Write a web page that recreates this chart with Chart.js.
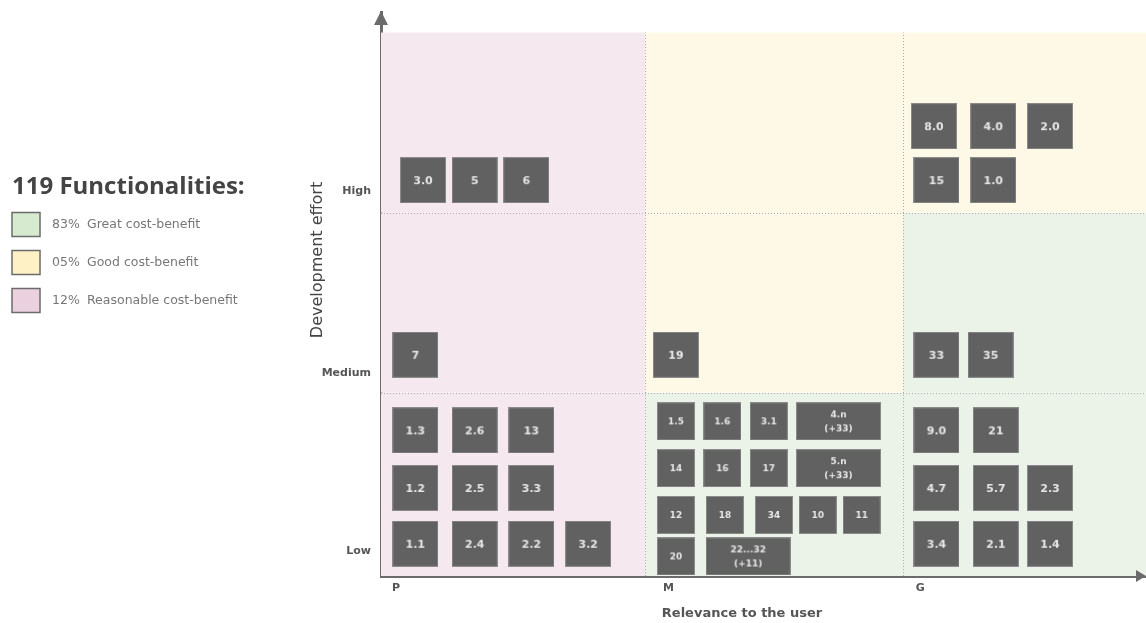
<!DOCTYPE html>
<html>
<head>
<meta charset="utf-8">
<title>Functionalities - cost-benefit matrix</title>
<script src="https://cdn.jsdelivr.net/npm/chart.js@4.4.1/dist/chart.umd.min.js"></script>
<style>
html, body { margin: 0; padding: 0; background: #fff; }
#wrap { width: 1146px; height: 623px; position: relative; }
</style>
</head>
<body>
<div id="wrap"><canvas id="myChart"></canvas></div>
<script>
var total_functionalities = 119;
var class_names = ['Great cost-benefit', 'Good cost-benefit', 'Reasonable cost-benefit'];
var class_shares = ['83%', '05%', '12%'];

var relevance_labels = ['P', 'M', 'G'];
var relevance_ticks = [0.02, 1.07, 2.05];
var effort_labels = ['Low', 'Medium', 'High'];
var effort_ticks = [0.12, 1.11, 2.12];

/* cost-benefit class of each cell, rows Low..High, columns P, M, G */
var cell_class = [
	[2, 0, 0],
	[2, 1, 0],
	[2, 1, 1]
];

var func_ids = [
	'3.0', '5', '6',
	'8.0', '4.0', '2.0', '15', '1.0',
	'7', '19', '33', '35',
	'1.3', '2.6', '13', '1.2', '2.5', '3.3', '1.1', '2.4', '2.2', '3.2',
	'1.5', '1.6', '3.1', '4.n\n(+33)', '14', '16', '17', '5.n\n(+33)',
	'12', '18', '34', '10', '11', '20', '22...32\n(+11)',
	'9.0', '21', '4.7', '5.7', '2.3', '3.4', '2.1', '1.4'
];
var func_relevance = [
	0.14, 0.34, 0.54,
	2.12, 2.35, 2.57, 2.13, 2.35,
	0.11, 1.12, 2.13, 2.34,
	0.11, 0.34, 0.56, 0.11, 0.34, 0.56, 0.11, 0.34, 0.56, 0.78,
	1.12, 1.30, 1.48, 1.75, 1.12, 1.30, 1.48, 1.75,
	1.12, 1.31, 1.50, 1.67, 1.84, 1.12, 1.40,
	2.13, 2.36, 2.13, 2.36, 2.57, 2.13, 2.36, 2.57
];
var func_effort = [
	2.18, 2.18, 2.18,
	2.48, 2.48, 2.48, 2.18, 2.18,
	1.21, 1.21, 1.21, 1.21,
	0.79, 0.79, 0.79, 0.47, 0.47, 0.47, 0.16, 0.16, 0.16, 0.16,
	0.84, 0.84, 0.84, 0.84, 0.58, 0.58, 0.58, 0.58,
	0.32, 0.32, 0.32, 0.32, 0.32, 0.09, 0.09,
	0.79, 0.79, 0.47, 0.47, 0.47, 0.16, 0.16, 0.16
];

var cell_fills = ['#ebf3e8', '#fef8e6', '#f5e9ef'];
var legend_fills = ['#d6eacf', '#fff1c6', '#ebd1df'];
var axis_color = '#6b6b6b';

/*
	Build the little grey tile used as point style for one functionality
*/
function makeBox(label, relevance, effort) {
	var lines = label.split('\n');
	var compact = relevance >= 1 && relevance < 2 && effort < 1;
	var w = 46, h = 46, fs = 11;
	if (compact) { w = 38; h = 38; fs = 9; }
	if (lines.length > 1) { w = 85; h = 38; fs = 9; }

	var c = document.createElement('canvas');
	c.width = w;
	c.height = h;
	var g = c.getContext('2d');
	g.fillStyle = '#8a8a8a';
	g.fillRect(0, 0, w, h);
	g.fillStyle = '#616161';
	g.fillRect(1, 1, w - 2, h - 2);
	g.fillStyle = '#e6e6e6';
	g.font = 'bold ' + fs + 'px "DejaVu Sans"';
	g.textAlign = 'center';
	g.textBaseline = 'middle';
	for (var k = 0; k < lines.length; k++) {
		g.fillText(lines[k], w / 2, h / 2 + 1 + (k - (lines.length - 1) / 2) * 14);
	}
	return c;
}

var points = [];
var box_images = [];
for (var i = 0; i < func_ids.length; i++) {
	points.push({x: func_relevance[i], y: func_effort[i]});
	box_images.push(makeBox(func_ids[i], func_relevance[i], func_effort[i]));
}

/* background cells, dotted borders, arrows, axis titles and the legend */
var matrixPlugin = {
	id: 'matrix',
	beforeDatasetsDraw: function(chart) {
		var ctx = chart.ctx, a = chart.chartArea;
		var xs = chart.scales.x, ys = chart.scales.y;
		ctx.save();
		for (var r = 0; r < 3; r++) {
			for (var c = 0; c < 3; c++) {
				var left = c === 0 ? a.left : xs.getPixelForValue(c);
				var right = c === 2 ? a.right : xs.getPixelForValue(c + 1);
				var top = ys.getPixelForValue(r + 1);
				var bottom = r === 0 ? a.bottom : ys.getPixelForValue(r);
				ctx.fillStyle = cell_fills[cell_class[r][c]];
				ctx.fillRect(left, top, right - left, bottom - top);
			}
		}
		ctx.strokeStyle = '#aaaaaa';
		ctx.lineWidth = 1;
		ctx.setLineDash([1, 2]);
		for (var v = 1; v < 3; v++) {
			var px = Math.round(xs.getPixelForValue(v)) + 0.5;
			ctx.beginPath();
			ctx.moveTo(px, a.bottom);
			ctx.lineTo(px, ys.getPixelForValue(3));
			ctx.stroke();
			var py = Math.round(ys.getPixelForValue(v)) + 0.5;
			ctx.beginPath();
			ctx.moveTo(a.left, py);
			ctx.lineTo(a.right, py);
			ctx.stroke();
		}
		ctx.restore();
	},
	afterDraw: function(chart) {
		var ctx = chart.ctx, a = chart.chartArea;
		ctx.save();

		/* arrow heads */
		ctx.fillStyle = axis_color;
		ctx.beginPath();
		ctx.moveTo(a.left, a.top - 1);
		ctx.lineTo(a.left - 7, a.top + 13);
		ctx.lineTo(a.left + 7, a.top + 13);
		ctx.closePath();
		ctx.fill();
		ctx.beginPath();
		ctx.moveTo(a.right, a.bottom);
		ctx.lineTo(a.right - 10, a.bottom - 6);
		ctx.lineTo(a.right - 10, a.bottom + 6);
		ctx.closePath();
		ctx.fill();

		/* axis titles */
		ctx.fillStyle = '#555';
		ctx.textAlign = 'center';
		ctx.textBaseline = 'middle';
		ctx.font = 'bold 13px "DejaVu Sans"';
		ctx.fillText('Relevance to the user', 742, 614);
		ctx.save();
		ctx.translate(318, 260);
		ctx.rotate(-Math.PI / 2);
		ctx.fillStyle = '#444';
		ctx.font = '16px "DejaVu Sans"';
		ctx.fillText('Development effort', 0, 0);
		ctx.restore();

		/* legend */
		ctx.textAlign = 'left';
		ctx.fillStyle = '#444';
		ctx.font = '700 24px "Open Sans"';
		ctx.fillText(total_functionalities + ' Functionalities:', 12, 187);
		ctx.font = '12.5px "DejaVu Sans"';
		for (var k = 0; k < class_names.length; k++) {
			var cy = 224.5 + k * 38;
			ctx.fillStyle = legend_fills[k];
			ctx.fillRect(12, cy - 12, 28, 24);
			ctx.strokeStyle = axis_color;
			ctx.lineWidth = 1.5;
			ctx.strokeRect(12, cy - 12, 28, 24);
			ctx.fillStyle = '#777';
			ctx.fillText(class_shares[k], 52, cy);
			ctx.fillText(class_names[k], 87, cy);
		}
		ctx.restore();
	}
};

var ctx = document.getElementById('myChart').getContext('2d');
var graph = new Chart(ctx, {
	type: 'scatter',
	data: {
		datasets: [{
			label: 'Functionalities',
			data: points,
			pointStyle: function(c) {
				return c.dataIndex === undefined ? 'rect' : box_images[c.dataIndex];
			},
			pointRadius: 20,
			pointHoverRadius: 20
		}]
	},
	options: {
		responsive: true,
		maintainAspectRatio: false,
		animation: false,
		events: [],
		layout: {
			autoPadding: false,
			padding: { left: 300, top: 12, right: 0, bottom: 0 }
		},
		plugins: {
			legend: { display: false },
			tooltip: { enabled: false }
		},
		scales: {
			x: {
				type: 'linear',
				min: -0.023,
				max: 2.942,
				afterFit: function(s) {
					s.height = 47;
					s.paddingLeft = 0;
					s.paddingRight = 0;
				},
				afterBuildTicks: function(s) {
					s.ticks = relevance_ticks.map(function(v) { return {value: v}; });
				},
				ticks: {
					align: 'start',
					padding: 6,
					color: '#555',
					font: { family: 'DejaVu Sans', size: 11, weight: 'bold' },
					callback: function(v, i) { return relevance_labels[i]; }
				},
				grid: { drawOnChartArea: false, drawTicks: false },
				border: { display: true, color: axis_color, width: 3 }
			},
			y: {
				type: 'linear',
				min: -0.019,
				max: 3.114,
				afterFit: function(s) {
					s.width = 81;
					s.paddingTop = 0;
					s.paddingBottom = 0;
				},
				afterBuildTicks: function(s) {
					s.ticks = effort_ticks.map(function(v) { return {value: v}; });
				},
				ticks: {
					padding: 10,
					color: '#555',
					font: { family: 'DejaVu Sans', size: 11, weight: 'bold' },
					callback: function(v, i) { return effort_labels[i]; }
				},
				grid: { drawOnChartArea: false, drawTicks: false },
				border: { display: true, color: axis_color, width: 3 }
			}
		}
	},
	plugins: [matrixPlugin]
});
</script>
</body>
</html>
